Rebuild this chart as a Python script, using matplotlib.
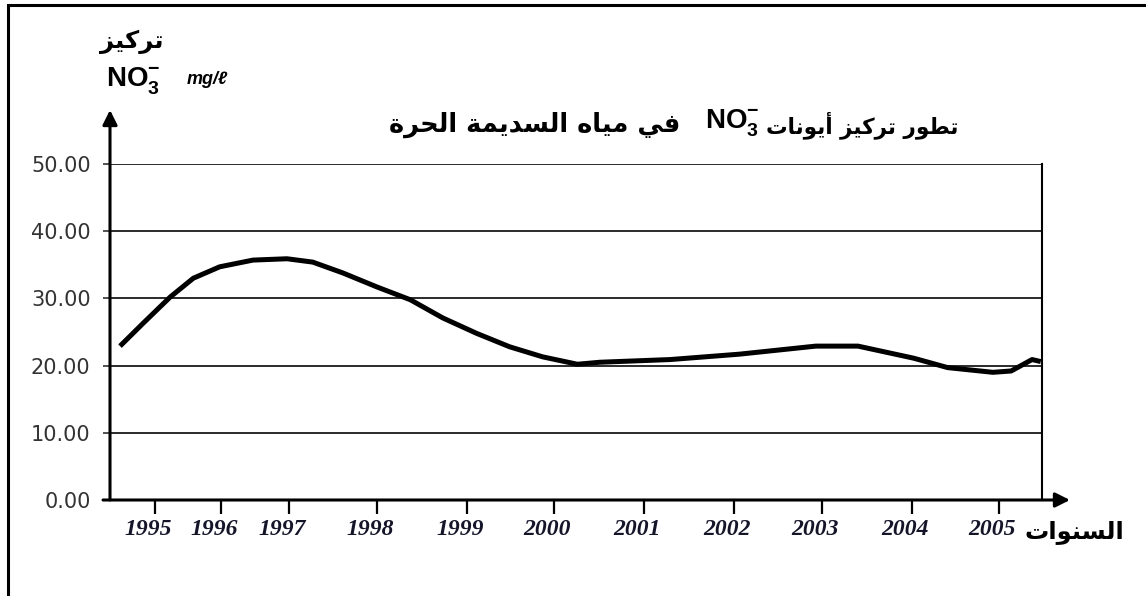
import numpy as np
import matplotlib
matplotlib.use("Agg")
import matplotlib.pyplot as plt
from matplotlib.patches import Rectangle
from matplotlib.transforms import ScaledTranslation

# ---------------- data ----------------
years_ticks = [1995, 1996, 1997, 1998, 1999, 2000, 2001, 2002, 2003, 2004, 2005]
y_ticks = [0, 10, 20, 30, 40, 50]
curve_years = [1994.47, 1994.82, 1995.23, 1995.58, 1995.98, 1996.47, 1996.97,
               1997.27, 1997.61, 1998.00, 1998.37, 1998.73, 1999.11, 1999.49,
               1999.87, 2000.26, 2000.51, 2001.29, 2002.06, 2002.93, 2003.40,
               2004.02, 2004.41, 2004.93, 2005.14, 2005.38, 2005.48]
curve_no3 = [22.9, 26.3, 30.2, 33.0, 34.7, 35.7, 35.9,
             35.4, 33.8, 31.7, 29.8, 27.1, 24.8, 22.8,
             21.3, 20.2, 20.5, 20.9, 21.7, 22.9, 22.9,
             21.1, 19.7, 19.0, 19.2, 20.9, 20.6]

title_right = "تطور تركيز أيونات"
title_left = "في مياه السديمة الحرة"
ylabel_ar = "تركيز"
xlabel_ar = "السنوات"

# ------------- layout (tick spacing along the axis, in pixels) -------------
tick_px = [155, 221, 289, 377, 467, 554, 644, 734, 822, 912, 999]
AX_L, AX_R = 110, 1042

# ------------- minimal Arabic shaping -------------
FORMS = {
    '\u0627': ('\uFE8D', '\uFE8E', None, None),
    '\u0623': ('\uFE83', '\uFE84', None, None),
    '\u062A': ('\uFE95', '\uFE96', '\uFE97', '\uFE98'),
    '\u0629': ('\uFE93', '\uFE94', None, None),
    '\u062D': ('\uFEA1', '\uFEA2', '\uFEA3', '\uFEA4'),
    '\u062F': ('\uFEA9', '\uFEAA', None, None),
    '\u0631': ('\uFEAD', '\uFEAE', None, None),
    '\u0632': ('\uFEAF', '\uFEB0', None, None),
    '\u0633': ('\uFEB1', '\uFEB2', '\uFEB3', '\uFEB4'),
    '\u0637': ('\uFEC1', '\uFEC2', '\uFEC3', '\uFEC4'),
    '\u0641': ('\uFED1', '\uFED2', '\uFED3', '\uFED4'),
    '\u0643': ('\uFED9', '\uFEDA', '\uFEDB', '\uFEDC'),
    '\u0644': ('\uFEDD', '\uFEDE', '\uFEDF', '\uFEE0'),
    '\u0645': ('\uFEE1', '\uFEE2', '\uFEE3', '\uFEE4'),
    '\u0646': ('\uFEE5', '\uFEE6', '\uFEE7', '\uFEE8'),
    '\u0647': ('\uFEE9', '\uFEEA', '\uFEEB', '\uFEEC'),
    '\u0648': ('\uFEED', '\uFEEE', None, None),
    '\u064A': ('\uFEF1', '\uFEF2', '\uFEF3', '\uFEF4'),
}


def shape(s):
    out = []
    for i, c in enumerate(s):
        if c not in FORMS:
            out.append(c)
            continue
        f = FORMS[c]
        prev = s[i - 1] if i > 0 else None
        nxt = s[i + 1] if i + 1 < len(s) else None
        jp = prev in FORMS and FORMS[prev][2] is not None
        jn = nxt in FORMS and f[2] is not None
        if jp and jn:
            out.append(f[3])
        elif jp:
            out.append(f[1])
        elif jn:
            out.append(f[2])
        else:
            out.append(f[0])
    return ''.join(reversed(out))


# ------------- custom x scale (irregular year spacing) -------------
YT = np.array(years_ticks, float)
TP = np.array(tick_px, float)
s0 = (TP[1] - TP[0]) / (YT[1] - YT[0])
s1 = (TP[-1] - TP[-2]) / (YT[-1] - YT[-2])


def fwd(y):
    y = np.asarray(y, float)
    out = np.interp(y, YT, TP)
    out = np.where(y < YT[0], TP[0] + (y - YT[0]) * s0, out)
    out = np.where(y > YT[-1], TP[-1] + (y - YT[-1]) * s1, out)
    return out


def inv(p):
    p = np.asarray(p, float)
    out = np.interp(p, TP, YT)
    out = np.where(p < TP[0], YT[0] + (p - TP[0]) / s0, out)
    out = np.where(p > TP[-1], YT[-1] + (p - TP[-1]) / s1, out)
    return out


W, H = 1146, 596
fig = plt.figure(figsize=(W / 100, H / 100), dpi=100)
fig.patch.set_facecolor('white')


def fx(px):
    return px / W


def fy(py):
    return 1 - py / H


ax = fig.add_axes([fx(AX_L), fy(500), fx(AX_R) - fx(AX_L), fy(164) - fy(500)])
ax.set_xscale('function', functions=(fwd, inv))
ax.set_xlim(float(inv(AX_L)), float(inv(AX_R)))
ax.set_ylim(0, 50)

# grid lines
for v in y_ticks[1:]:
    ax.axhline(v, color='#2b2b2b', lw=1.4, zorder=1)

ax.plot(curve_years, curve_no3, color='black', lw=3.6, solid_joinstyle='round',
        solid_capstyle='butt', zorder=3)

for sp in ['top', 'left', 'bottom']:
    ax.spines[sp].set_visible(False)
ax.spines['right'].set_linewidth(1.5)
ax.spines['right'].set_color('black')

ax.set_yticks(y_ticks)
ax.set_yticklabels([f"{v:.2f}" for v in y_ticks], fontsize=15,
                   family='DejaVu Sans', color='#333333')
ax.tick_params(axis='y', length=5, width=1.2, pad=9, color='#333333')

ax.set_xticks(years_ticks)
ax.set_xticklabels([str(y) for y in years_ticks], fontsize=17,
                   family='Liberation Serif', style='italic', weight='bold',
                   color='#15152a')
ax.xaxis.set_minor_locator(matplotlib.ticker.NullLocator())
ax.tick_params(axis='x', length=10, width=1.6, pad=4, color='black', direction='out')
off = ScaledTranslation(-7 / 100, 0, fig.dpi_scale_trans)
for lab in ax.get_xticklabels():
    lab.set_transform(lab.get_transform() + off)

# axes arrows
ax.annotate('', xy=(0, (500 - 110) / 336), xytext=(0, 0),
            xycoords='axes fraction', textcoords='axes fraction',
            arrowprops=dict(arrowstyle='-|>', lw=2.2, color='black',
                            mutation_scale=22, shrinkA=0, shrinkB=0),
            annotation_clip=False)
ax.annotate('', xy=((1070 - AX_L) / (AX_R - AX_L), 0), xytext=(-7 / 932, 0),
            xycoords='axes fraction', textcoords='axes fraction',
            arrowprops=dict(arrowstyle='-|>', lw=2.2, color='black',
                            mutation_scale=22, shrinkA=0, shrinkB=0),
            annotation_clip=False)

# outer frame
fig.add_artist(Rectangle((fx(8), -0.05), 1.2, fy(5) + 0.05, transform=fig.transFigure,
                         fill=False, lw=2.2, edgecolor='black', clip_on=False))

# texts
ar = dict(family='DejaVu Sans', weight='bold', color='black')
fig.text(fx(100), fy(42), shape(ylabel_ar), ha='left', va='center', fontsize=17.5, **ar)
fig.text(fx(106), fy(80), r'NO$_{\mathregular{3}}^{\mathregular{-}}$', ha='left',
         va='center', fontsize=20, family='Liberation Sans', weight='bold')
fig.text(fx(187), fy(80), 'mg/ℓ', ha='left', va='center', fontsize=13,
         family=['Liberation Sans', 'DejaVu Sans'], style='italic', weight='bold')

fig.text(fx(958), fy(125), shape(title_right), ha='right', va='center', fontsize=15.5, **ar)
fig.text(fx(705), fy(122), r'NO$_{\mathregular{3}}^{\mathregular{-}}$', ha='left',
         va='center', fontsize=20, family='Liberation Sans', weight='bold')
fig.text(fx(389), fy(125), shape(title_left), ha='left', va='center', fontsize=18.5, **ar)

fig.text(fx(1025), fy(532), shape(xlabel_ar), ha='left', va='center', fontsize=17.5, **ar)

fig.savefig('out.png', dpi=100, facecolor='white')
